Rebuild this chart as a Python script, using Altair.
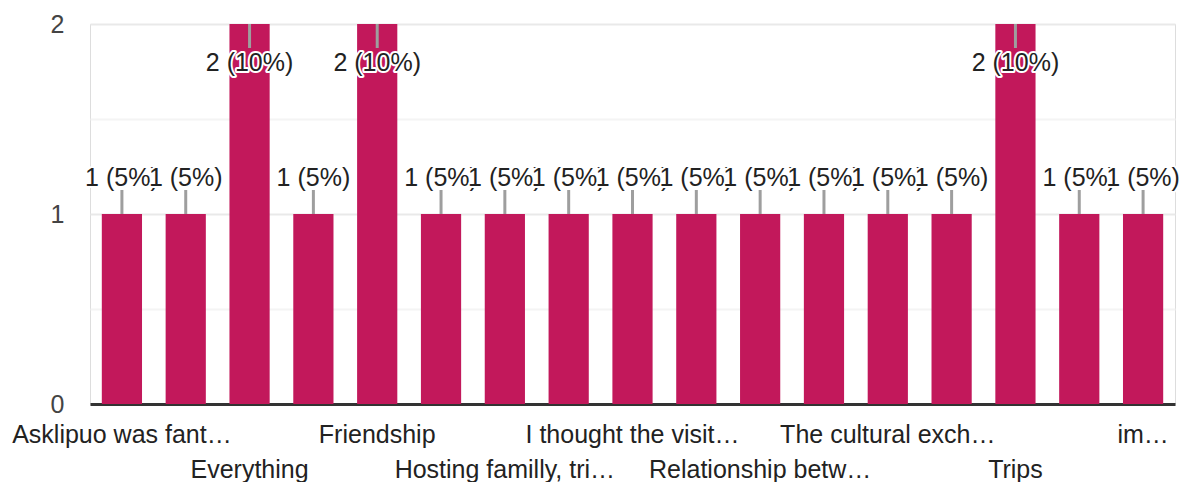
import altair as alt
import pandas as pd

# Answers (sorted alphabetically) and how many respondents gave each one
categories = [
    "Asklipuo was fant…", "Culture", "Everything", "Food", "Friendship",
    "Greek hospitality", "Hosting familly, tri…", "I liked everything",
    "I thought the visit…", "Meeting new people", "Relationship betw…",
    "School visits", "The cultural exch…", "The people", "Trips",
    "Working together", "im…",
]
counts = [1, 1, 2, 1, 2, 1, 1, 1, 1, 1, 1, 1, 1, 1, 2, 1, 1]
y_ticks = [0, 0.5, 1, 1.5, 2]

FONT = "Liberation Sans"
BAR = "#c2185b"
W, H = 1085, 380

total = sum(counts)
top = max(counts)
df = pd.DataFrame({"category": categories, "count": counts})
df["idx"] = range(len(df))
df["label"] = [f"{c} ({round(100 * c / total)}%)" for c in counts]
df["at_top"] = df["count"] == top
# every other category name is written under the axis, on two staggered rows
df["shown"] = df["idx"] % 2 == 0
df["row"] = (df["idx"] // 2) % 2

base = alt.Chart(df)
x_enc = alt.X(
    "category:N",
    sort=categories,
    scale=alt.Scale(paddingInner=0.37, paddingOuter=0.185),
    axis=alt.Axis(
        title=None, labels=False, ticks=False, grid=False,
        domainColor="#333333", domainWidth=3,
    ),
)
y_scale = alt.Scale(domain=[0, top], nice=False)

bars = base.mark_bar(color=BAR).encode(
    x=x_enc,
    y=alt.Y(
        "count:Q",
        scale=y_scale,
        axis=alt.Axis(
            title=None, values=y_ticks, domain=False, ticks=False, tickSize=0,
            labelExpr="datum.value % 1 === 0 ? format(datum.value, 'd') : ''",
            labelFont=FONT, labelFontSize=25, labelColor="#444444",
            labelPadding=26,
            gridColor={"condition": {"test": "datum.value % 1 === 0", "value": "#e9e9e9"},
                       "value": "#f4f4f4"},
            gridWidth=2,
        ),
    ),
)

# leader lines from the bar top to its value label
lead_up = base.transform_filter("!datum.at_top").mark_rule(
    color="#9e9e9e", strokeWidth=3, y2Offset=-24
).encode(x=alt.X("category:N", sort=categories), y=alt.Y("count:Q", scale=y_scale), y2="count:Q")
lead_down = base.transform_filter("datum.at_top").mark_rule(
    color="#9e9e9e", strokeWidth=3, y2Offset=24
).encode(x=alt.X("category:N", sort=categories), y=alt.Y("count:Q", scale=y_scale), y2="count:Q")

layers = [bars, lead_up, lead_down]

# value labels with a white halo, drawn bar by bar so later labels sit on top
for i, c in enumerate(counts):
    dy = 47 if c == top else -28
    sel = base.transform_filter(f"datum.idx == {i}")
    enc = dict(
        x=alt.X("category:N", sort=categories),
        y=alt.Y("count:Q", scale=y_scale),
        text="label:N",
    )
    halo = sel.mark_text(
        font=FONT, fontSize=25, baseline="alphabetic", dy=dy,
        fill="white", stroke="white", strokeWidth=4, strokeJoin="round",
    ).encode(**enc)
    txt = sel.mark_text(
        font=FONT, fontSize=25, baseline="alphabetic", dy=dy, color="#222222",
    ).encode(**enc)
    layers += [halo, txt]

# staggered category names under the axis
for r, ypix in [(0, H + 39), (1, H + 74)]:
    layers.append(
        base.transform_filter(f"datum.shown && datum.row == {r}").mark_text(
            font=FONT, fontSize=25, baseline="alphabetic", color="#222222",
        ).encode(
            x=alt.X("category:N", sort=categories),
            y=alt.value(ypix),
            text="category:N",
        )
    )

chart = alt.layer(*layers).properties(
    width=W,
    height=H,
    autosize=alt.AutoSizeParams(type="none"),
    padding={"left": 90, "top": 24, "right": 6, "bottom": 78},
).configure_view(stroke="#ebebeb", strokeWidth=2).configure(background="white")

chart.save("out.html", embed_options={"renderer": "svg", "actions": False})
